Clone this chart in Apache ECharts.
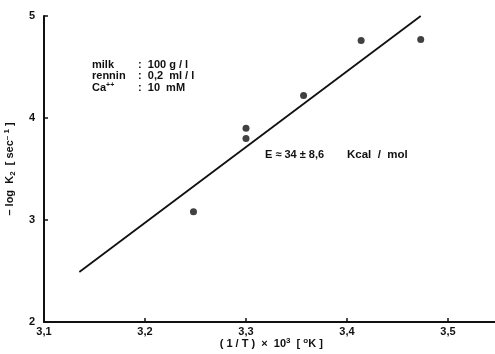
<!DOCTYPE html>
<html>
<head>
<meta charset="utf-8">
<script src="https://cdn.jsdelivr.net/npm/echarts@6/dist/echarts.min.js"></script>
<style>html,body{margin:0;padding:0;background:#fff}#c{width:495px;height:354px}</style>
</head>
<body>
<div id="c"></div>
<script>
// Data
var pointX = [3.248, 3.300, 3.300, 3.357, 3.414, 3.473];
var pointY = [3.08, 3.90, 3.80, 4.22, 4.76, 4.77];
var fitX = [3.135, 3.473];
var fitY = [2.49, 5.00];
var xTicks = [3.1, 3.2, 3.3, 3.4, 3.5];
var yTicks = [2, 3, 4, 5];
var infoLabels = ["milk", "rennin", "Ca"];
var infoValues = [":  100 g / l", ":  0,2  ml / l", ":  10  mM"];
var energyValue = "E \u2248 34 \u00B1 8,6";
var energyUnit = "Kcal  /  mol";

var FONT = '"Liberation Sans", Arial, sans-serif';
var chart = echarts.init(document.getElementById('c'), null, {renderer: 'canvas'});

var pts = pointX.map(function (x, i) { return [x, pointY[i]]; });
var fit = fitX.map(function (x, i) { return [x, fitY[i]]; });

var baseRich = {
  sup: {fontSize: 8, fontWeight: 'bold', fontFamily: FONT, color: '#111', verticalAlign: 'top', padding: [0, 0, 6, 0]},
  sub: {fontSize: 8, fontWeight: 'bold', fontFamily: FONT, color: '#111', padding: [5, 0, 0, 0]}
};

var graphics = [];
infoLabels.forEach(function (t, i) {
  graphics.push({type: 'text', left: 92, top: 59 + i * 11.5,
    style: {text: i === 2 ? 'Ca{sup|++}' : t, font: 'bold 11px ' + FONT, fill: '#111',
      rich: {sup: {fontSize: 7, fontWeight: 'bold', fontFamily: FONT, fill: '#111', padding: [0, 0, 5, 0]}}}});
  graphics.push({type: 'text', left: 138, top: 59 + i * 11.5,
    style: {text: infoValues[i], font: 'bold 11px ' + FONT, fill: '#111'}});
});
graphics.push({type: 'text', left: 265, top: 149,
  style: {text: energyValue, font: 'bold 11px ' + FONT, fill: '#111'}});
graphics.push({type: 'text', left: 347, top: 148.5,
  style: {text: energyUnit, font: 'bold 11.5px ' + FONT, fill: '#111'}});

chart.setOption({
  animation: false,
  backgroundColor: '#fff',
  grid: {left: 44, top: 16, width: 454.5, height: 306, containLabel: false, outerBoundsMode: 'none'},
  xAxis: {
    type: 'value', min: 3.1, max: 3.55, interval: 0.1,
    axisLine: {show: true, lineStyle: {color: '#111', width: 2}},
    axisTick: {show: true, inside: true, length: 4, lineStyle: {color: '#111', width: 1.5}},
    splitLine: {show: false},
    axisLabel: {showMaxLabel: false, color: '#111', fontFamily: FONT, fontWeight: 'bold', fontSize: 11, margin: 4,
      formatter: function (v) { return v.toFixed(1).replace('.', ','); }},
    name: '( 1 / T )  \u00D7  10{sup|3}  [ {sup|o}K ]', nameLocation: 'middle', nameGap: 15, nameMoveOverlap: false,
    nameTextStyle: {color: '#111', fontFamily: FONT, fontWeight: 'bold', fontSize: 11, rich: baseRich}
  },
  yAxis: {
    type: 'value', min: 2, max: 5, interval: 1,
    axisLine: {show: true, lineStyle: {color: '#111', width: 2}},
    axisTick: {show: true, inside: true, length: 4, lineStyle: {color: '#111', width: 1.5}},
    splitLine: {show: false},
    axisLabel: {color: '#111', fontFamily: FONT, fontWeight: 'bold', fontSize: 11, margin: 9},
    name: '\u2013 log  K{sub|2}  [ sec{sup|\u2013 1} ]', nameLocation: 'middle', nameGap: 27, nameMoveOverlap: false,
    nameTextStyle: {color: '#111', fontFamily: FONT, fontWeight: 'bold', fontSize: 11, rich: baseRich}
  },
  series: [
    {type: 'line', data: fit, symbol: 'none', lineStyle: {color: '#111', width: 1.8}, silent: true},
    {type: 'scatter', data: pts, symbol: 'circle', symbolSize: 7, itemStyle: {color: '#111'}}
  ],
  graphic: graphics
});
</script>
</body>
</html>
